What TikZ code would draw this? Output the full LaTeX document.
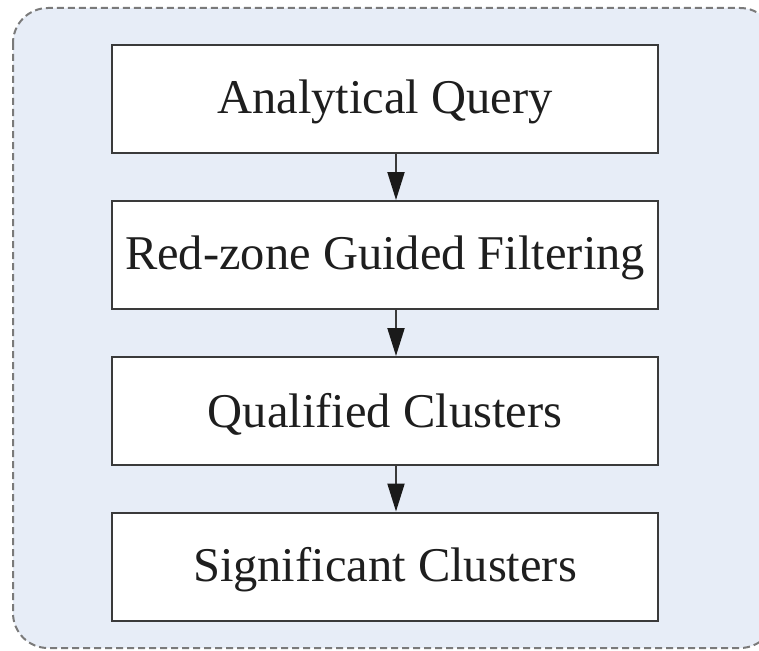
\documentclass[tikz,border=0pt]{standalone}
\usepackage{fontspec}
\setmainfont{Liberation Serif}
\usetikzlibrary{arrows.meta}
\definecolor{panelfill}{HTML}{E7EDF7}
\definecolor{panelline}{HTML}{7A7A7A}
\definecolor{boxline}{HTML}{3A3A3A}
\definecolor{tipfill}{HTML}{1A1A1A}
\definecolor{labeltext}{HTML}{1E1E1E}
\tikzset{
  stagebox/.style={draw=boxline, line width=2pt, fill=white, minimum width=546pt,
    minimum height=108pt, inner sep=0pt, text=labeltext,
    font=\fontsize{48.5}{58}\selectfont},
  stagetext/.style={text=labeltext, inner sep=0pt,
    font=\fontsize{48.5}{58}\selectfont},
  flowarrow/.style={draw=boxline, line width=2pt,
    -{Triangle[length=28pt,width=17pt,color=tipfill]}},
  panel/.style={fill=panelfill, draw=panelline, line width=2pt,
    dash pattern=on 7pt off 4pt, rounded corners=35pt}
}
\begin{document}
\begin{tikzpicture}[x=1pt,y=-1pt]
  \useasboundingbox (0,0) rectangle (759,650);
  \clip (0,0) rectangle (759,650);
  % shaded panel behind the pipeline
  \path[panel] (13,8) rectangle (775,648);
  % pipeline stages (frames), labels set slightly below centre
  \node[stagebox] (q)  at (385,99)    {};
  \node[stagebox] (f)  at (385,255)   {};
  \node[stagebox] (qc) at (385,411)   {};
  \node[stagebox] (sc) at (385,566.5) {};
  \node[stagetext] (qt)  at ([yshift=-3pt]q.center)  {Analytical Query};
  \node[stagetext] (ft)  at ([yshift=-3pt]f.center)  {Red-zone Guided Filtering};
  \node[stagetext] (qct) at ([yshift=-3pt]qc.center) {Qualified Clusters};
  \node[stagetext] (sct) at ([yshift=-3pt]sc.center) {Significant Clusters};
  % arrows run slightly right of the box centres
  \coordinate (ax) at (396,0);
  \draw[flowarrow] (q.south -| ax)  -- (f.north -| ax);
  \draw[flowarrow] (f.south -| ax)  -- (qc.north -| ax);
  \draw[flowarrow] (qc.south -| ax) -- (sc.north -| ax);
\end{tikzpicture}
\end{document}
